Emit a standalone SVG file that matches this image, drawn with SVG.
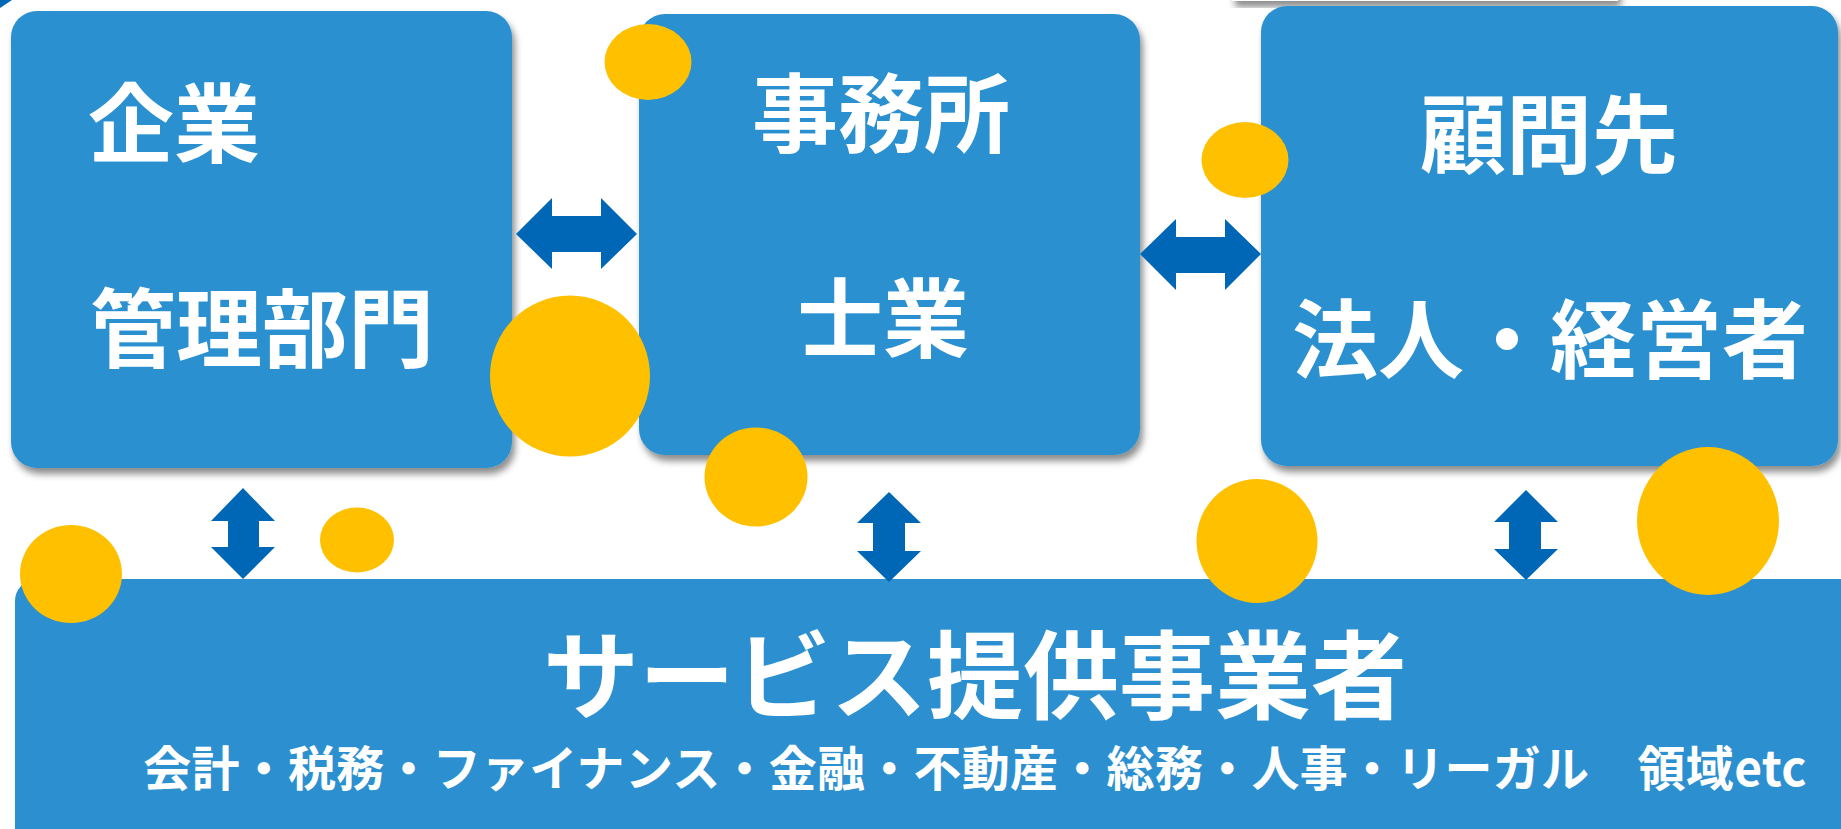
<svg xmlns="http://www.w3.org/2000/svg" width="1841" height="829" viewBox="0 0 1841 829">
<defs>
<filter id="sh" x="-10%" y="-10%" width="120%" height="125%">
<feDropShadow dx="3" dy="6" stdDeviation="3.5" flood-color="#000" flood-opacity="0.45"/>
</filter>
<style>
.box{fill:#2C90D0;}
.arr{fill:#0067B6;}
.dot{fill:#FFC000;}
.t{font-family:"Noto Sans CJK JP","Noto Sans CJK SC",sans-serif;font-weight:bold;fill:#FFFFFF;}
.big{font-size:86px;}
</style>
</defs>
<rect width="1841" height="829" fill="#FFFFFF"/>
<polygon points="0,0 12,0 0,8" fill="#0067B6"/>
<rect x="1232" y="-40" width="386" height="41" fill="#FFFFFF" filter="url(#sh)"/>
<g id="node-kigyo">
<rect class="box" x="11" y="11" width="501" height="457" rx="26" filter="url(#sh)"/>
<text class="t big" x="88" y="156">企業</text>
<text class="t big" x="90" y="361">管理部門</text>
</g>
<g id="node-jimusho">
<rect class="box" x="639" y="14" width="501" height="441" rx="26" filter="url(#sh)"/>
<text class="t big" x="881" y="146" text-anchor="middle">事務所</text>
<text class="t big" x="883" y="351" text-anchor="middle">士業</text>
</g>
<g id="node-komonsaki">
<rect class="box" x="1261" y="6" width="577" height="460" rx="26" filter="url(#sh)"/>
<text class="t big" x="1549" y="167" text-anchor="middle">顧問先</text>
<text class="t big" x="1550" y="372" text-anchor="middle">法人・経営者</text>
</g>
<g id="node-service">
<rect class="box" x="15" y="579" width="1900" height="400" rx="22"/>
<text class="t" x="975" y="711" font-size="96" text-anchor="middle">サービス提供事業者</text>
<text class="t" x="975" y="786" font-size="48" letter-spacing="0.27" text-anchor="middle">会計・税務・ファイナンス・金融・不動産・総務・人事・リーガル　領域etc</text>
</g>
<g id="connectors">
<polygon class="arr" points="516,234 552,198 552,216 601,216 601,198 637,234 601,269 601,252 552,252 552,269"/>
<polygon class="arr" points="1140,254 1176,219 1176,237 1225,237 1225,219 1261,254 1225,290 1225,273 1176,273 1176,290"/>
<polygon class="arr" points="243,488 275,521 259,521 259,547 275,547 243,579 211,547 228,547 228,521 211,521"/>
<polygon class="arr" points="889,492 921,523 905,523 905,551 921,551 889,582 857,551 873,551 873,523 857,523"/>
<polygon class="arr" points="1526,490 1558,522 1541,522 1541,549 1558,549 1526,580 1494,549 1509,549 1509,522 1494,522"/>
</g>
<g id="dots">
<ellipse class="dot" cx="648" cy="62" rx="43.5" ry="38"/>
<ellipse class="dot" cx="570" cy="376" rx="80" ry="80.5"/>
<ellipse class="dot" cx="1245" cy="160" rx="43.5" ry="38"/>
<ellipse class="dot" cx="756" cy="477" rx="51.5" ry="49.5"/>
<ellipse class="dot" cx="71" cy="574" rx="51" ry="49"/>
<ellipse class="dot" cx="357" cy="540" rx="37" ry="32.5"/>
<ellipse class="dot" cx="1257" cy="541" rx="60.5" ry="62"/>
<ellipse class="dot" cx="1708" cy="521" rx="71" ry="74"/>
</g>
</svg>
